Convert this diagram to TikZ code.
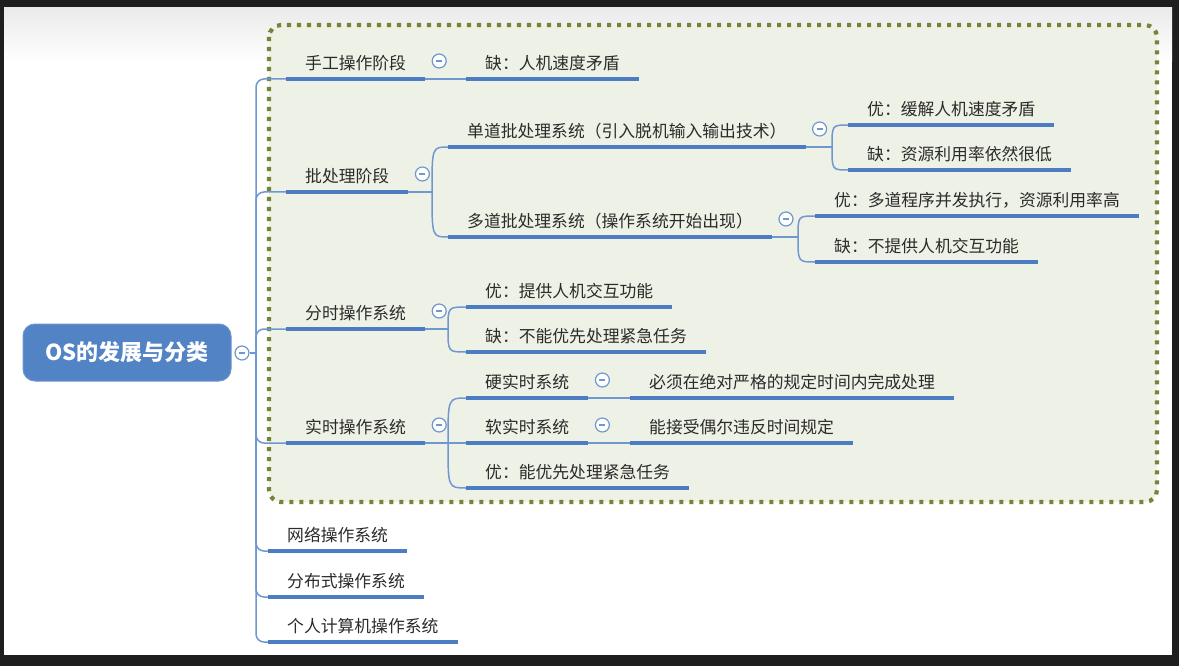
\documentclass[tikz,border=0pt]{standalone}
\usepackage{fontspec}
\setmainfont{Noto Sans CJK SC}
\usetikzlibrary{calc}
\definecolor{framec}{HTML}{1E1E1E}
\definecolor{ublue}{HTML}{4C7DC2}
\definecolor{cblue}{HTML}{6F97D0}
\definecolor{boxfill}{HTML}{EEF1E5}
\definecolor{dotc}{HTML}{76843A}
\definecolor{rootfill}{HTML}{5283C5}
\definecolor{txt}{HTML}{2B2B2B}
\newcommand{\clpminus}{\textcolor{cblue}{\rule[-0.65pt]{6pt}{1.3pt}}}
\begin{document}
\begin{tikzpicture}[x=1pt,y=-1pt,
  lbl/.style={anchor=south west, inner xsep=19pt, inner ysep=0pt, text height=14pt, text depth=9pt,
              font=\fontsize{16.8pt}{20pt}\selectfont, text=txt},
  uline/.style={draw=ublue, line width=4.2pt},
  conn/.style={draw=cblue, line width=1.5pt},
  clp/.style={circle, draw=cblue, line width=1.2pt, fill=white, minimum size=14pt, inner sep=0pt},
  rootnode/.style={rounded corners=12pt, fill=rootfill, draw=rootfill!85!white, line width=1pt,
              minimum width=208pt, minimum height=57pt, text=white,
              font=\fontsize{22pt}{26pt}\selectfont\bfseries}
]
\useasboundingbox (0,0) rectangle (1179,666);
% frame and page
\fill[framec] (0,0) rectangle (1179,666);
\fill[white] (4,8) rectangle (1172,655);
\shade[top color=black!8, bottom color=white] (4,8) rectangle (1172,62);
% dotted boundary
\draw[dotc, fill=boxfill, line width=4.2pt, dash pattern=on 4.2pt off 5.8pt, rounded corners=12pt]
  (269,25) rectangle (1157,502);

% root
\node[rootnode] (root) at (127,352.5) {OS的发展与分类};
\node[clp] (c0) at (242,353) {\clpminus};
\coordinate (J) at (256,353);

% level 1
\node[lbl] (n1) at (286,79) {手工操作阶段};
\node[lbl] (n2) at (286,192) {批处理阶段};
\node[lbl] (n3) at (286,329) {分时操作系统};
\node[lbl] (n4) at (286,443) {实时操作系统};
\node[lbl] (n5) at (268,551) {网络操作系统};
\node[lbl] (n6) at (268,597) {分布式操作系统};
\node[lbl] (n7) at (268,642) {个人计算机操作系统};
% level 2
\node[lbl] (n11) at (466,79) {缺：人机速度矛盾};
\node[lbl] (n21) at (448,147) {单道批处理系统（引入脱机输入输出技术）};
\node[lbl] (n22) at (448,237) {多道批处理系统（操作系统开始出现）};
\node[lbl] (n31) at (466,307) {优：提供人机交互功能};
\node[lbl] (n32) at (466,352) {缺：不能优先处理紧急任务};
\node[lbl] (n41) at (466,398) {硬实时系统};
\node[lbl] (n42) at (466,443) {软实时系统};
\node[lbl] (n43) at (466,488) {优：能优先处理紧急任务};
% level 3
\node[lbl] (n211) at (848,125) {优：缓解人机速度矛盾};
\node[lbl] (n212) at (848,170) {缺：资源利用率依然很低};
\node[lbl] (n221) at (815,216) {优：多道程序并发执行，资源利用率高};
\node[lbl] (n222) at (815,262) {缺：不提供人机交互功能};
\node[lbl] (n411) at (630,398) {必须在绝对严格的规定时间内完成处理};
\node[lbl] (n421) at (630,443) {能接受偶尔违反时间规定};

% connectors
\draw[conn] (c0.east) -- (J);
\foreach \n in {n1,n2,n3,n4,n5,n6,n7}
  \draw[conn, rounded corners=8pt] (J) |- (\n.south west);
\draw[conn] (n1.south east) -- (n11.south west);
\draw[conn] (n41.south east) -- (n411.south west);
\draw[conn] (n42.south east) -- (n421.south west);

\coordinate (b2) at ($(n21.south west |- n2.south east)+(-16,0)$);
\coordinate (b21) at ($(n211.south west |- n21.south east)+(-16,0)$);
\coordinate (b22) at ($(n221.south west |- n22.south east)+(-17,0)$);
\coordinate (b3) at ($(n31.south west |- n3.south east)+(-18,0)$);
\coordinate (b4) at ($(n41.south west |- n4.south east)+(-18,0)$);
\draw[conn] (n2.south east) -- (b2);
\draw[conn] (n21.south east) -- (b21);
\draw[conn] (n22.south east) -- (b22);
\draw[conn] (n3.south east) -- (b3);
\draw[conn] (n4.south east) -- (b4);
\foreach \b/\c in {b2/n21,b2/n22,b21/n211,b21/n212,b22/n221,b22/n222,b3/n31,b3/n32,b4/n41,b4/n42,b4/n43}
  \draw[conn] (\b) .. controls (\b |- \c.south west) .. (\c.south west);

% underlines
\foreach \n in {n1,n2,n3,n4,n5,n6,n7,n11,n21,n22,n31,n32,n41,n42,n43,n211,n212,n221,n222,n411,n421}
  \draw[uline] (\n.south west) -- (\n.south east);

% collapse buttons
\foreach \n/\m in {n1/c1,n2/c2,n21/c21,n22/c22,n3/c3,n4/c4,n41/c41,n42/c42}
  \node[clp] (\m) at ($(\n.south east)+(14,-18)$) {\clpminus};
\end{tikzpicture}
\end{document}
